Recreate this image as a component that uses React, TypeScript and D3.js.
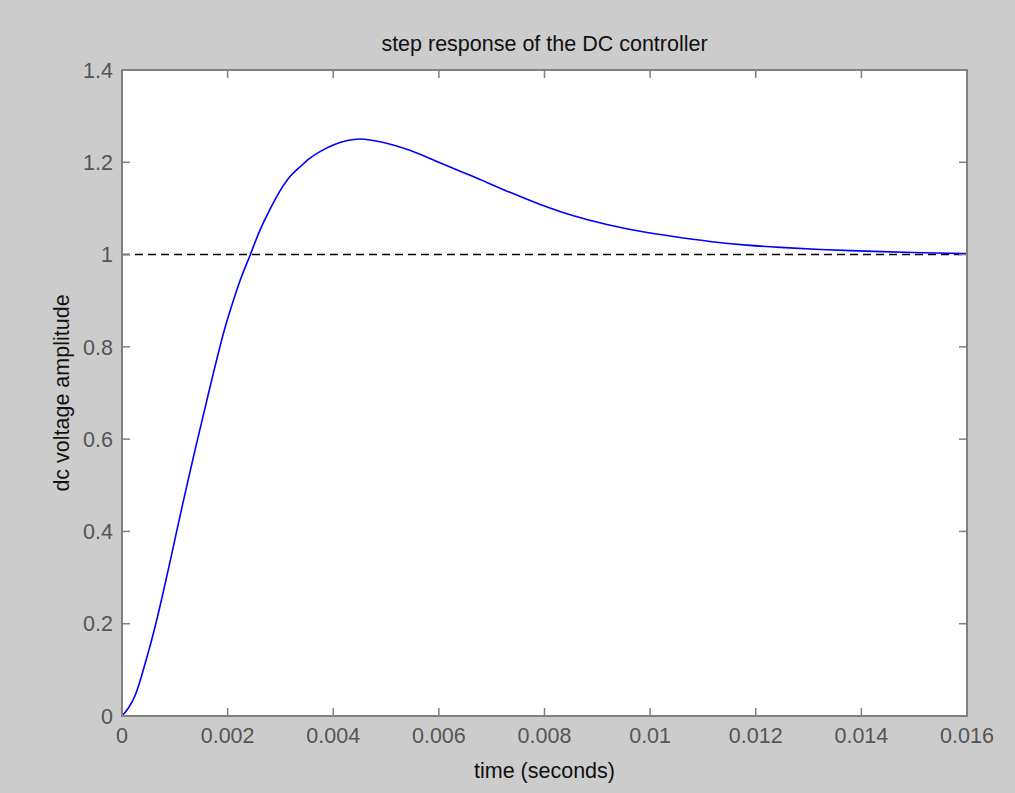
import React from "react";
import * as d3 from "d3";

// Step response samples: time (s) and dc voltage amplitude
const timeSec = [
  0, 0.000125, 0.00025, 0.0005, 0.00064, 0.00079, 0.001035, 0.00118, 0.00136,
  0.00154, 0.00173, 0.00192, 0.00208, 0.00225, 0.00242, 0.002613, 0.002802,
  0.002992, 0.003181, 0.00337, 0.00356, 0.003749, 0.004, 0.00425, 0.00451,
  0.00495, 0.00545, 0.00602, 0.00665, 0.00728, 0.00792, 0.00855, 0.00918,
  0.00981, 0.01044, 0.01113, 0.01183, 0.01246, 0.01322, 0.0141, 0.01498,
  0.016,
];
const amplitude = [
  0, 0.018, 0.045, 0.139, 0.2, 0.273, 0.4, 0.475, 0.565, 0.652, 0.743, 0.829,
  0.89, 0.948, 0.997, 1.053, 1.098, 1.138, 1.169, 1.19, 1.209, 1.223, 1.2375,
  1.2465, 1.2505, 1.243, 1.226, 1.199, 1.169, 1.138, 1.1085, 1.084, 1.065,
  1.0505, 1.039, 1.0285, 1.0205, 1.0155, 1.011, 1.0075, 1.0045, 1.002,
];

// Steady-state reference level
const referenceLevel = 1;

const xTicks = [0, 0.002, 0.004, 0.006, 0.008, 0.01, 0.012, 0.014, 0.016];
const xTickLabels = ["0", "0.002", "0.004", "0.006", "0.008", "0.01", "0.012", "0.014", "0.016"];
const yTicks = [0, 0.2, 0.4, 0.6, 0.8, 1, 1.2, 1.4];
const yTickLabels = ["0", "0.2", "0.4", "0.6", "0.8", "1", "1.2", "1.4"];

const titleText = "step response of the DC controller";
const xLabelText = "time (seconds)";
const yLabelText = "dc voltage amplitude";

const W = 1015;
const H = 793;
const plot = { left: 122, right: 967, top: 70, bottom: 716 };
const FONT = "'Liberation Sans', Arial, Helvetica, sans-serif";
const FONT_SIZE = 21.5;
const AXIS_COLOR = "#808080";
const TICK_TEXT = "#555555";
const LABEL_TEXT = "#111111";
const TICK_LEN = 8;

export default function App() {
  const x = d3.scaleLinear().domain([0, 0.016]).range([plot.left, plot.right]);
  const y = d3.scaleLinear().domain([0, 1.4]).range([plot.bottom, plot.top]);

  const pts: [number, number][] = timeSec.map((t, i) => [t, amplitude[i]]);
  const linePath = d3
    .line<[number, number]>()
    .x((d) => x(d[0]))
    .y((d) => y(d[1]))
    .curve(d3.curveCatmullRom.alpha(0.5))(pts) as string;

  const cx = (plot.left + plot.right) / 2;
  const cy = (plot.top + plot.bottom) / 2;

  return (
    <svg
      width={W}
      height={H}
      style={{ position: "absolute", left: 0, top: 0, display: "block" }}
      fontFamily={FONT}
    >
      <rect x={0} y={0} width={W} height={H} fill="#cccccc" />
      <rect
        x={plot.left}
        y={plot.top}
        width={plot.right - plot.left}
        height={plot.bottom - plot.top}
        fill="#ffffff"
      />

      {/* reference level */}
      <line
        x1={x(0)}
        x2={x(0.016)}
        y1={y(referenceLevel)}
        y2={y(referenceLevel)}
        stroke="#000000"
        strokeWidth={1.5}
        strokeDasharray="8,5"
      />

      {/* response curve */}
      <path d={linePath} fill="none" stroke="#0000ff" strokeWidth={1.6} />

      {/* ticks on all four sides */}
      {xTicks.map((t, i) => (
        <g key={"xt" + i}>
          <line x1={x(t)} x2={x(t)} y1={plot.bottom} y2={plot.bottom - TICK_LEN} stroke={AXIS_COLOR} strokeWidth={1.5} />
          <line x1={x(t)} x2={x(t)} y1={plot.top} y2={plot.top + TICK_LEN} stroke={AXIS_COLOR} strokeWidth={1.5} />
          <text
            x={x(t)}
            y={743}
            textAnchor="middle"
            fontSize={FONT_SIZE}
            fill={TICK_TEXT}
          >
            {xTickLabels[i]}
          </text>
        </g>
      ))}
      {yTicks.map((v, i) => (
        <g key={"yt" + i}>
          <line x1={plot.left} x2={plot.left + TICK_LEN} y1={y(v)} y2={y(v)} stroke={AXIS_COLOR} strokeWidth={1.5} />
          <line x1={plot.right} x2={plot.right - TICK_LEN} y1={y(v)} y2={y(v)} stroke={AXIS_COLOR} strokeWidth={1.5} />
          <text
            x={plot.left - 9}
            y={y(v)}
            dy="0.36em"
            textAnchor="end"
            fontSize={FONT_SIZE}
            fill={TICK_TEXT}
          >
            {yTickLabels[i]}
          </text>
        </g>
      ))}

      {/* axes box */}
      <rect
        x={plot.left}
        y={plot.top}
        width={plot.right - plot.left}
        height={plot.bottom - plot.top}
        fill="none"
        stroke={AXIS_COLOR}
        strokeWidth={2}
      />

      <text x={cx} y={51} textAnchor="middle" fontSize={FONT_SIZE} fill={LABEL_TEXT}>
        {titleText}
      </text>
      <text x={cx} y={778} textAnchor="middle" fontSize={FONT_SIZE} fill={LABEL_TEXT}>
        {xLabelText}
      </text>
      <text
        transform={`translate(69, ${cy}) rotate(-90)`}
        textAnchor="middle"
        fontSize={FONT_SIZE}
        fill={LABEL_TEXT}
      >
        {yLabelText}
      </text>
    </svg>
  );
}
